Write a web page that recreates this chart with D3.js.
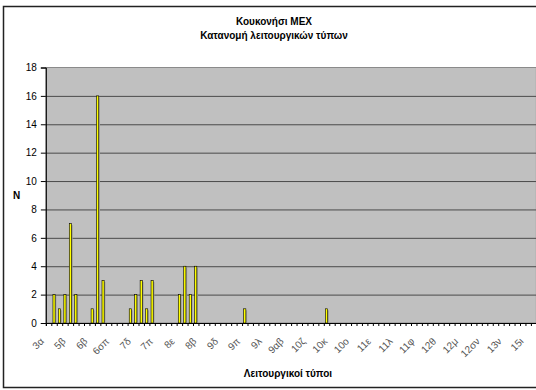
<!DOCTYPE html>
<html>
<head>
<meta charset="utf-8">
<script src="https://cdn.jsdelivr.net/npm/d3@7"></script>
<style>
    body { margin: 0; background: #fff; }
    svg { display: block; font-family: "Liberation Sans", Arial, sans-serif; }
</style>
</head>
<body>
<div id="chart"></div>
<script>
// Labels shown on the category axis (one every 4 categories)
var categoryLabels = ["3α", "5β", "6β", "6σπ", "7δ", "7π", "8ε", "8β", "9δ", "9π", "9λ", "9αβ",
    "10ζ", "10κ", "10ο", "11ε", "11λ", "11φ", "12θ", "12μ", "12σν", "13ν", "15ι"];
var labelEvery = 4;

// N per category (90 categories)
var counts = [
    0, 2, 1, 2, 7, 2, 0, 0, 1, 16,
    3, 0, 0, 0, 0, 1, 2, 3, 1, 3,
    0, 0, 0, 0, 2, 4, 2, 4, 0, 0,
    0, 0, 0, 0, 0, 0, 1, 0, 0, 0,
    0, 0, 0, 0, 0, 0, 0, 0, 0, 0,
    0, 1, 0, 0, 0, 0, 0, 0, 0, 0,
    0, 0, 0, 0, 0, 0, 0, 0, 0, 0,
    0, 0, 0, 0, 0, 0, 0, 0, 0, 0,
    0, 0, 0, 0, 0, 0, 0, 0, 0, 0
];
var yTicks = [0, 2, 4, 6, 8, 10, 12, 14, 16, 18];

var title = ["Κουκονήσι ΜΕΧ", "Κατανομή λειτουργικών τύπων"];
var xTitle = "Λειτουργικοί τύποι";
var yTitle = "N";

var W = 536, H = 390;
var plot = {left: 45.85, right: 536.35, top: 67.5, bottom: 323};

var svg = d3.select("#chart").append("svg")
    .attr("width", W)
    .attr("height", H);

// outer chart border (cut at the right edge like the original)
svg.append("rect")
    .attr("x", 3.5).attr("y", 6.5)
    .attr("width", 560).attr("height", 381)
    .attr("fill", "#fff")
    .attr("stroke", "#222")
    .attr("stroke-width", 1.5);

var idx = counts.map(function (d, i) { return i; });
var x = d3.scaleBand().domain(idx).range([plot.left, plot.right]);
var xEdge = d3.scaleLinear().domain([0, counts.length]).range([plot.left, plot.right]);
var y = d3.scaleLinear().domain([0, 18]).range([plot.bottom, plot.top]);

// plot area
svg.append("rect")
    .attr("x", plot.left).attr("y", plot.top)
    .attr("width", plot.right - plot.left)
    .attr("height", plot.bottom - plot.top)
    .attr("fill", "#c0c0c0")
    .attr("stroke", "#8a8a8a");

// gridlines
var grid = svg.append("g")
    .attr("transform", "translate(" + plot.left + ",0)")
    .call(d3.axisLeft(y).tickValues(yTicks.slice(1, -1)).tickSize(-(plot.right - plot.left)).tickFormat(""));
grid.select(".domain").remove();
grid.selectAll("line").attr("stroke", "#4a4a4a");

// bars: shadow first, then yellow face
var bw = x.bandwidth();
var bars = svg.append("g");
var data = counts.map(function (v, i) { return {i: i, v: v}; }).filter(function (d) { return d.v > 0; });

bars.selectAll(".shadow").data(data).enter().append("rect")
    .attr("class", "shadow")
    .attr("x", function (d) { return x(d.i) + bw * 0.3 + 1.2; })
    .attr("y", function (d) { return y(d.v) + 1.5; })
    .attr("width", bw * 0.4)
    .attr("height", function (d) { return plot.bottom - y(d.v) - 1.5; })
    .attr("fill", "#999");

bars.selectAll(".bar").data(data).enter().append("rect")
    .attr("class", "bar")
    .attr("x", function (d) { return x(d.i) + bw * 0.3; })
    .attr("y", function (d) { return y(d.v); })
    .attr("width", bw * 0.4)
    .attr("height", function (d) { return plot.bottom - y(d.v); })
    .attr("fill", "#ffff00")
    .attr("stroke", "#000")
    .attr("stroke-width", 0.6);

// y axis
var yAxis = svg.append("g")
    .attr("transform", "translate(" + plot.left + ",0)")
    .call(d3.axisLeft(y).tickValues(yTicks).tickSize(5).tickPadding(4));
yAxis.select(".domain").attr("stroke", "#000");
yAxis.selectAll("line").attr("stroke", "#000");
yAxis.selectAll("text").attr("font-size", 10).attr("fill", "#000")
    .attr("font-family", "Liberation Sans, Arial, sans-serif");

// x axis: tick marks between categories
var xTicks = svg.append("g")
    .attr("transform", "translate(0," + plot.bottom + ")")
    .call(d3.axisBottom(xEdge).tickValues(d3.range(counts.length + 1)).tickSize(3).tickFormat(""));
xTicks.select(".domain").attr("stroke", "#000");
xTicks.selectAll("line").attr("stroke", "#000");

// x axis: category labels rotated 45°
var labelIdx = idx.filter(function (i) { return i % labelEvery === 0; });
svg.append("g").selectAll("text").data(labelIdx).enter().append("text")
    .attr("transform", function (i) {
        return "translate(" + (x(i) + bw / 2 - 4) + "," + (plot.bottom + 19) + ") rotate(-45)";
    })
    .attr("text-anchor", "end")
    .attr("font-size", 10)
    .attr("fill", "#555")
    .text(function (i) { return categoryLabels[i / labelEvery]; });

// titles
svg.append("text")
    .attr("x", 274).attr("y", 25)
    .attr("text-anchor", "middle")
    .attr("font-size", 10).attr("font-weight", "bold")
    .text(title[0]);
svg.append("text")
    .attr("x", 274).attr("y", 39)
    .attr("text-anchor", "middle")
    .attr("font-size", 10).attr("font-weight", "bold")
    .text(title[1]);
svg.append("text")
    .attr("x", 288).attr("y", 377)
    .attr("text-anchor", "middle")
    .attr("font-size", 10).attr("font-weight", "bold")
    .text(xTitle);
svg.append("text")
    .attr("x", 16.5).attr("y", 199)
    .attr("text-anchor", "middle")
    .attr("font-size", 10).attr("font-weight", "bold")
    .text(yTitle);
</script>
</body>
</html>
